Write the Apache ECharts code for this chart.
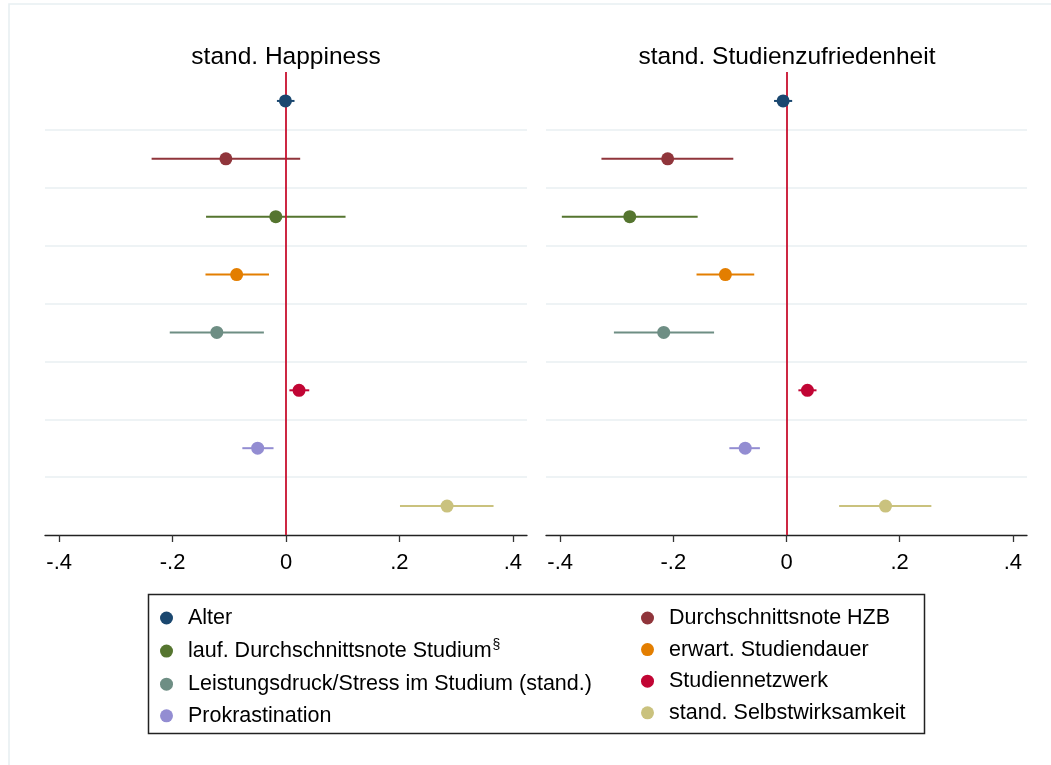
<!DOCTYPE html>
<html>
<head>
<meta charset="utf-8">
<script src="https://cdn.jsdelivr.net/npm/echarts@6/dist/echarts.min.js"></script>
<style>html,body{margin:0;padding:0;background:#fff;}#c{width:1051px;height:765px;}</style>
</head>
<body>
<div id="c"></div>
<script>
const categories = ['Alter','Durchschnittsnote HZB','lauf. Durchschnittsnote Studium','erwart. Studiendauer','Leistungsdruck/Stress im Studium (stand.)','Studiennetzwerk','Prokrastination','stand. Selbstwirksamkeit'];
const colors = ['#1a476f','#90353b','#55752f','#e37e00','#6e8e84','#c10534','#938dd2','#cac27e'];
const panelTitles = ['stand. Happiness','stand. Studienzufriedenheit'];
const happyEst = [-0.001,-0.106,-0.018,-0.087,-0.122,0.023,-0.050,0.284];
const happyLo  = [-0.016,-0.237,-0.141,-0.142,-0.205,0.006,-0.077,0.201];
const happyHi  = [ 0.015, 0.025, 0.105,-0.030,-0.039,0.041,-0.022,0.366];
const studEst  = [-0.006,-0.210,-0.277,-0.108,-0.217,0.037,-0.073,0.175];
const studLo   = [-0.022,-0.327,-0.397,-0.159,-0.305,0.021,-0.101,0.093];
const studHi   = [ 0.010,-0.094,-0.157,-0.057,-0.128,0.053,-0.047,0.256];
const tickValues = [-0.4,-0.2,0,0.2,0.4];
const tickLabels = ['-.4','-.2','0','.2','.4'];
const legendLeft = [0,2,4,6];
const legendRight = [1,3,5,7];
const supName = 'lauf. Durchschnittsnote Studium';

const FONT = 'Liberation Sans, Arial, sans-serif';
const chart = echarts.init(document.getElementById('c'), null, {renderer:'canvas'});

const grids = [
  {left:45, right:524, top:72, bottom:230},
  {left:546, right:24, top:72, bottom:230}
];
function fmtTick(v){
  let best = 0;
  tickValues.forEach((t,i)=>{ if (Math.abs(t-v) < Math.abs(tickValues[best]-v)) best = i; });
  return tickLabels[best];
}
const xAxes = grids.map((g,i)=>({
  type:'value', gridIndex:i, min:-0.425, max:0.425,
  axisLine:{show:true, lineStyle:{color:'#222', width:1.3}},
  axisTick:{show:true, length:7, customValues:tickValues, lineStyle:{color:'#333', width:1.3}},
  axisLabel:{show:true, customValues:tickValues, formatter:fmtTick, margin:17, fontSize:22, color:'#000', fontFamily:FONT},
  splitLine:{show:false}
}));
const yAxes = grids.map((g,i)=>({
  type:'category', gridIndex:i, inverse:true, data:categories,
  axisLine:{show:false}, axisTick:{show:false}, axisLabel:{show:false},
  splitLine:{show:true, showMinLine:false, showMaxLine:false, lineStyle:{color:'#e8eff2', width:1.6}}
}));

const panels = [[happyEst,happyLo,happyHi],[studEst,studLo,studHi]];
const series = [];
panels.forEach((p,pi)=>{
  const [est,lo,hi] = p;
  series.push({
    type:'custom', coordinateSystem:'cartesian2d', xAxisIndex:pi, yAxisIndex:pi, z:2, silent:true,
    data: categories.map((c,i)=>[lo[i], i, hi[i]]),
    renderItem:function(params, api){
      const idx = params.dataIndex;
      const a = api.coord([api.value(0), idx]);
      const b = api.coord([api.value(2), idx]);
      return {type:'line', shape:{x1:a[0],y1:a[1],x2:b[0],y2:b[1]}, style:{stroke:colors[idx], lineWidth:2}};
    }
  });
  categories.forEach((c,i)=>{
    const s = {
      type:'scatter', name:c, xAxisIndex:pi, yAxisIndex:pi, z:5, symbol:'circle', symbolSize:13,
      itemStyle:{color:colors[i], opacity:1}, data:[[est[i], i]]
    };
    if (i === 0) {
      s.markLine = {silent:true, symbol:['none','none'], label:{show:false}, z:3,
        lineStyle:{color:'#c8102e', width:1.8, type:'solid'}, data:[{xAxis:0}]};
    }
    series.push(s);
  });
});

function legendFmt(name){
  return name === supName ? '{n|' + name + '}{s|§}' : '{n|' + name + '}';
}
const legendText = {fontSize:21.5, color:'#000', fontFamily:FONT,
  rich:{n:{fontSize:21.5, lineHeight:25, padding:[0,0,0,10], fontFamily:FONT, color:'#000'},
        s:{fontSize:14, lineHeight:14, padding:[0,0,11,1], fontFamily:FONT, color:'#000'}}};
const legends = [legendLeft, legendRight].map((idxs,k)=>({
  orient:'vertical', left: k===0 ? 160 : 641, top:607, padding:0,
  itemWidth:13, itemHeight:13, itemGap:9.6, icon:'circle',
  selectedMode:false, formatter:legendFmt, textStyle:legendText,
  data: idxs.map(i=>categories[i])
}));

chart.setOption({
  animation:false,
  backgroundColor:'#fff',
  grid:grids, xAxis:xAxes, yAxis:yAxes, series:series, legend:legends,
  graphic:[
    {type:'rect', z:-10, shape:{x:9, y:4, width:1100, height:800}, style:{fill:'#fff', stroke:'#e8eff2', lineWidth:1.6}},
    {type:'rect', z:0, shape:{x:148.5, y:594.5, width:776, height:139}, style:{fill:'#fff', stroke:'#222', lineWidth:1.5}},
    {type:'text', x:286, y:57, style:{text:panelTitles[0], fontSize:24.5, fontFamily:FONT, fill:'#000', textAlign:'center', textVerticalAlign:'middle'}},
    {type:'text', x:787, y:57, style:{text:panelTitles[1], fontSize:24.5, fontFamily:FONT, fill:'#000', textAlign:'center', textVerticalAlign:'middle'}}
  ]
});
</script>
</body>
</html>
